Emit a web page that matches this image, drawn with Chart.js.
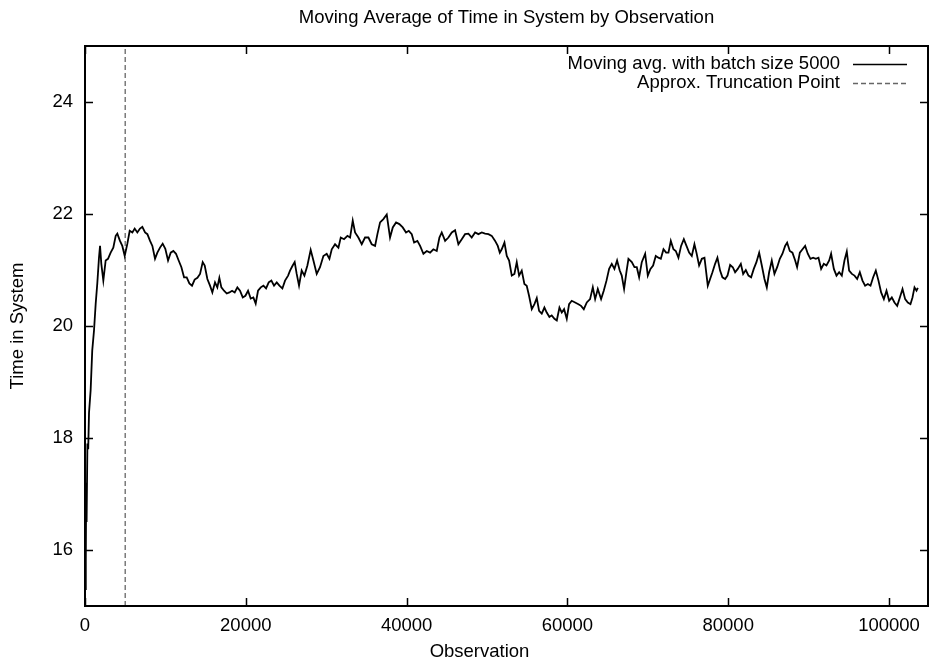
<!DOCTYPE html>
<html lang="en">
<head>
  <meta charset="UTF-8" />
  <title>Moving Average of Time in System by Observation</title>
  <script src="https://cdn.jsdelivr.net/npm/chart.js"></script>
  <style>
    html, body {
      margin: 0;
      padding: 0;
      background: #fff;
    }
  </style>
</head>
<body>
  <canvas id="grafico" width="929" height="663"></canvas>

  <script>
    // Observation number (x) and moving average of time in system (y)
    const observations = [
      0, 100, 150, 200, 300, 400, 500, 700, 900, 1120,
      1330, 1530, 1740, 1870, 2030, 2280, 2570, 2860, 3190, 3520,
      3820, 4020, 4350, 4640, 4940, 5270, 5560, 5890, 6180, 6510,
      6840, 7130, 7470, 7760, 8090, 8380, 8710, 9000, 9330, 9660,
      9990, 10330, 10660, 10990, 11320, 11650, 11990, 12320, 12650, 12980,
      13310, 13640, 13980, 14310, 14640, 14890, 15220, 15550, 15840, 16170,
      16460, 16710, 16960, 17290, 17630, 17960, 18290, 18620, 18950, 19280,
      19620, 19950, 20280, 20610, 20940, 21230, 21520, 21860, 22190, 22520,
      22850, 23180, 23510, 23850, 24180, 24550, 24880, 25260,
      25500, 25830, 26080, 26330, 26620, 26950, 27290, 27660, 28070, 28410,
      28820, 29230, 29650, 30060, 30400, 30690, 31100, 31520, 31810, 32220,
      32640, 32970, 33300, 33590, 34000, 34420, 34830, 35250, 35660, 36080,
      36370, 36700, 37110, 37530, 37940, 38280, 38690, 39100, 39520, 39930,
      40270, 40640, 40930, 41340, 41680, 42090, 42510, 42920, 43330, 43750,
      44080, 44370, 44790, 45200, 45620, 46030, 46440, 46860, 47270, 47690,
      48100, 48520, 48930, 49350, 49760, 50180, 50590, 51010,
      51340, 51590, 51830, 52170, 52460, 52750, 53080, 53410, 53700, 53990,
      54320, 54650, 54940, 55230, 55570, 55900, 56190, 56480, 56810, 57140,
      57430, 57760, 58050, 58390, 58680, 59010, 59300, 59590, 59920, 60210,
      60540, 60960, 61370, 61700, 62040, 62410, 62820, 63160, 63450, 63780,
      64190, 64520, 64860, 65190, 65520, 65850, 66180, 66510, 66760, 67050,
      67340, 67590, 68010, 68340, 68630, 68920, 69250, 69670, 70000, 70330,
      70660, 70990, 71320, 71620, 71950, 72280, 72570, 72860, 73190, 73480,
      73810, 74140, 74480, 74810, 75140, 75470, 75800, 76050, 76380, 76720,
      77050,
      77460, 77750, 78040, 78370, 78660, 78990, 79280, 79620, 79910, 80240,
      80570, 80860, 81190, 81570, 81860, 82190, 82520, 82850, 83180, 83510,
      83850, 84180, 84510, 84800, 85090, 85420, 85750, 86090, 86420, 86750,
      87080, 87330, 87660, 87990, 88330, 88570, 88910, 89240, 89570, 89900,
      90230, 90560, 90900, 91230, 91560, 91890, 92220, 92560, 92800, 93140,
      93470, 93800, 94130, 94460, 94750, 95040, 95380, 95710, 96040, 96370,
      96700, 97030, 97370, 97700, 98030, 98360, 98690, 99020, 99360, 99690,
      100020, 100350, 100680, 101020, 101350, 101680, 102010, 102340, 102670, 102920,
      103170, 103420, 103590
    ];

    const timeInSystem = [
      15.3, 15.8, 17.2, 16.5, 17.9, 17.8, 18.45, 18.85, 19.56, 19.92,
      20.40, 20.76, 21.22, 21.43, 21.11, 20.81, 21.17, 21.20, 21.31, 21.40,
      21.61, 21.65, 21.52, 21.43, 21.25, 21.47, 21.70, 21.67, 21.74, 21.67,
      21.74, 21.77, 21.67, 21.64, 21.52, 21.43, 21.20, 21.31, 21.40, 21.47,
      21.38, 21.17, 21.31, 21.34, 21.29, 21.17, 21.05, 20.87, 20.87, 20.76,
      20.72, 20.83, 20.86, 20.93, 21.14, 21.08, 20.84, 20.72, 20.60, 20.78,
      20.69, 20.86, 20.69, 20.63, 20.58, 20.60, 20.63, 20.60, 20.69, 20.63,
      20.51, 20.54, 20.63, 20.49, 20.51, 20.40, 20.63, 20.69, 20.72, 20.67,
      20.78, 20.81, 20.72, 20.78, 20.72, 20.67, 20.81, 20.90,
      20.99, 21.08, 21.14, 20.93, 20.72, 20.99, 20.90, 21.08, 21.36, 21.17,
      20.93, 21.05, 21.25, 21.29, 21.20, 21.37, 21.46, 21.40, 21.58, 21.55,
      21.61, 21.58, 21.88, 21.67, 21.58, 21.46, 21.58, 21.58, 21.46, 21.43,
      21.64, 21.85, 21.91, 21.99, 21.58, 21.76, 21.85, 21.82, 21.76, 21.67,
      21.70, 21.64, 21.49, 21.52, 21.43, 21.29, 21.34, 21.31, 21.37, 21.34,
      21.58, 21.67, 21.52, 21.58, 21.67, 21.71, 21.46, 21.55, 21.64, 21.65,
      21.58, 21.67, 21.64, 21.67, 21.65, 21.64, 21.61, 21.52,
      21.43, 21.31, 21.37, 21.49, 21.25, 21.17, 20.90, 20.93, 21.14, 20.90,
      20.99, 20.75, 20.72, 20.54, 20.30, 20.39, 20.50, 20.27, 20.22, 20.33,
      20.24, 20.16, 20.19, 20.13, 20.10, 20.33, 20.24, 20.30, 20.13, 20.39,
      20.45, 20.42, 20.39, 20.36, 20.30, 20.42, 20.48, 20.69, 20.48, 20.66,
      20.48, 20.63, 20.81, 21.02, 21.11, 21.02, 21.17, 20.99, 20.90, 20.66,
      20.96, 21.20, 21.14, 21.05, 21.05, 20.87, 21.14, 21.29, 20.90, 21.02,
      21.08, 21.25, 21.22, 21.20, 21.37, 21.31, 21.31, 21.52, 21.37, 21.34,
      21.22, 21.43, 21.55, 21.43, 21.31, 21.25, 21.46, 21.31, 21.08, 21.20,
      21.22,
      20.72, 20.84, 20.96, 21.11, 21.22, 20.99, 20.87, 20.84, 20.90, 21.09,
      21.05, 20.96, 21.02, 21.11, 20.93, 21.00, 20.90, 20.87, 21.02, 21.14,
      21.31, 21.08, 20.84, 20.69, 20.96, 21.17, 20.93, 21.05, 21.20, 21.29,
      21.43, 21.49, 21.34, 21.31, 21.17, 21.05, 21.31, 21.37, 21.43, 21.29,
      21.20, 21.22, 21.20, 21.22, 21.02, 21.11, 21.08, 21.17, 21.29, 21.02,
      20.90, 20.96, 20.90, 21.17, 21.33, 20.99, 20.93, 20.90, 20.84, 20.96,
      20.81, 20.72, 20.75, 20.72, 20.87, 20.99, 20.81, 20.60, 20.48, 20.63,
      20.45, 20.51, 20.42, 20.36, 20.51, 20.66, 20.48, 20.42, 20.39, 20.51,
      20.69, 20.63, 20.68
    ];

    const truncationPoint = 5000;
    const xMin = 0;
    const xMax = 104850;
    const yMin = 15;
    const yMax = 25;
    const xTicks = [0, 20000, 40000, 60000, 80000, 100000];
    const yTicks = [16, 18, 20, 22, 24];
    const chartTitle = "Moving Average of Time in System by Observation";
    const xLabel = "Observation";

    if (observations.length !== timeInSystem.length) {
      console.warn("observations / timeInSystem length mismatch", observations.length, timeInSystem.length);
    }

    const fuente = '"Liberation Sans", Arial, Helvetica, sans-serif';
    const tamano = 18.5;
    Chart.defaults.font.family = fuente;
    Chart.defaults.font.size = tamano;
    Chart.defaults.color = "#000";

    // gnuplot style: box border, inward mirrored ticks, key inside top right, title over the plot box
    const marcoGnuplot = {
      id: "marcoGnuplot",
      afterDatasetsDraw(chart) {
        const { ctx, chartArea: a, scales: { x, y } } = chart;
        ctx.save();
        ctx.strokeStyle = "#000";
        ctx.lineWidth = 1.5;
        ctx.beginPath();
        x.ticks.forEach(t => {
          const px = Math.round(x.getPixelForValue(t.value)) + 0.5;
          ctx.moveTo(px, a.bottom); ctx.lineTo(px, a.bottom - 8);
          ctx.moveTo(px, a.top); ctx.lineTo(px, a.top + 8);
        });
        y.ticks.forEach(t => {
          const py = Math.round(y.getPixelForValue(t.value)) + 0.5;
          ctx.moveTo(a.left, py); ctx.lineTo(a.left + 8, py);
          ctx.moveTo(a.right, py); ctx.lineTo(a.right - 8, py);
        });
        ctx.stroke();

        ctx.lineWidth = 2;
        ctx.strokeRect(a.left, a.top, a.right - a.left, a.bottom - a.top);

        ctx.font = tamano + "px " + fuente;
        ctx.fillStyle = "#000";
        ctx.textBaseline = "middle";
        ctx.textAlign = "center";
        ctx.fillText(chartTitle, (a.left + a.right) / 2, 18);
        ctx.fillText(xLabel, (a.left + a.right) / 2 - 27, 652);

        // key
        ctx.textAlign = "right";
        chart.data.datasets.forEach((ds, i) => {
          const ly = a.top + 18 + i * 19;
          ctx.fillStyle = "#000";
          ctx.fillText(ds.label, a.right - 88, ly);
          ctx.strokeStyle = ds.borderColor;
          ctx.lineWidth = 1.3;
          ctx.setLineDash(ds.borderDash || []);
          ctx.beginPath();
          ctx.moveTo(a.right - 75, ly + 0.5);
          ctx.lineTo(a.right - 21, ly + 0.5);
          ctx.stroke();
          ctx.setLineDash([]);
        });
        ctx.restore();
      }
    };

    const ctx = document.getElementById("grafico").getContext("2d");

    new Chart(ctx, {
      type: "line",
      data: {
        datasets: [
          {
            label: "Moving avg. with batch size 5000",
            data: observations.map((o, i) => ({ x: o, y: timeInSystem[i] })),
            borderColor: "#000",
            borderWidth: 1.8,
            pointRadius: 0,
            tension: 0,
            fill: false
          },
          {
            label: "Approx. Truncation Point",
            data: [{ x: truncationPoint, y: yMin }, { x: truncationPoint, y: yMax }],
            borderColor: "#666",
            borderWidth: 1.3,
            borderDash: [5, 3],
            pointRadius: 0,
            fill: false
          }
        ]
      },
      options: {
        responsive: false,
        animation: false,
        layout: { padding: { left: 0, right: 1, top: 46, bottom: 0 } },
        plugins: {
          legend: { display: false },
          tooltip: { enabled: false },
          title: { display: false }
        },
        scales: {
          x: {
            type: "linear",
            min: xMin,
            max: xMax,
            afterBuildTicks: s => { s.ticks = xTicks.map(v => ({ value: v })); },
            afterFit: s => { s.height = 57; },
            grid: { display: false, drawTicks: false },
            border: { display: false },
            ticks: {
              color: "#000",
              padding: 9,
              maxRotation: 0,
              autoSkip: false,
              callback: v => String(v)
            },
            title: { display: false }
          },
          y: {
            min: yMin,
            max: yMax,
            afterBuildTicks: s => { s.ticks = yTicks.map(v => ({ value: v })); },
            afterFit: s => { s.width = 85; },
            grid: { display: false, drawTicks: false },
            border: { display: false },
            ticks: {
              color: "#000",
              padding: 12,
              callback: v => String(v)
            },
            title: {
              display: true,
              text: "Time in System",
              color: "#000",
              font: { size: tamano, lineHeight: 1.2 },
              padding: { top: 7, bottom: 0 }
            }
          }
        }
      },
      plugins: [marcoGnuplot]
    });
  </script>
</body>
</html>
